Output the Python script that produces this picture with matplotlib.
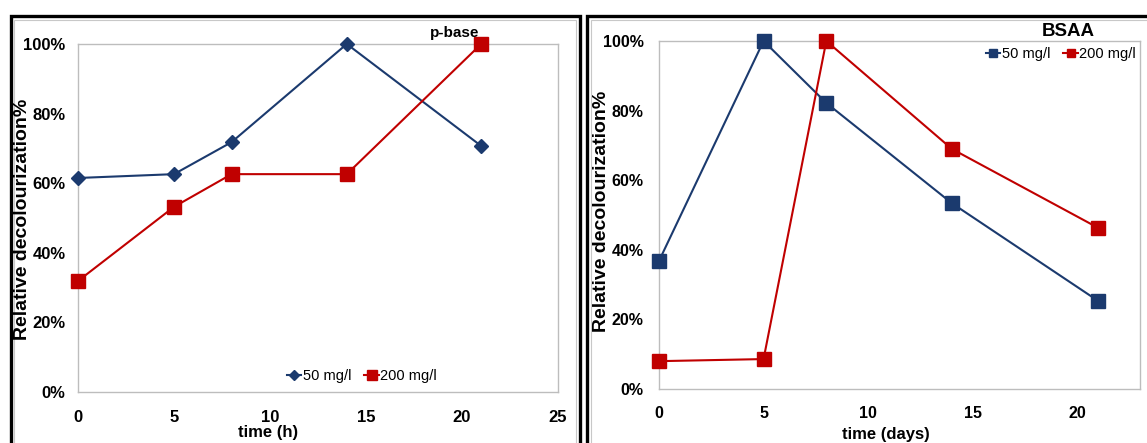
import matplotlib
matplotlib.use("Agg")
import matplotlib.pyplot as plt
from matplotlib.patches import Rectangle
from matplotlib.ticker import PercentFormatter

plt.rcParams['font.family'] = ['Liberation Sans', 'DejaVu Sans']

# p-base panel (time in hours)
pbase_time = [0, 5, 8, 14, 21]
pbase_50 = [61.5, 62.6, 71.8, 100, 70.7]
pbase_200 = [31.9, 53.2, 62.6, 62.6, 100]

# BSAA panel (time in days)
bsaa_time = [0, 5, 8, 14, 21]
bsaa_50 = [36.8, 100, 82.2, 53.4, 25.3]
bsaa_200 = [8.0, 8.6, 100, 69.0, 46.3]

series_labels = ['50 mg/l', '200 mg/l']
y_ticks = [0, 20, 40, 60, 80, 100]

BLUE = '#1B3A6E'
RED = '#C00000'
FRAME_GREY = '#BDBDBD'

W, H = 1147, 443
fig = plt.figure(figsize=(W / 100, H / 100), dpi=100)


def box(x0, y0, x1, y1):
    """Axes rectangle from pixel edges (top-left origin)."""
    return [x0 / W, (H - y1) / H, (x1 - x0) / W, (y1 - y0) / H]


def frame(x0, y0, x1, color, lw):
    """Panel frame whose bottom runs past the figure edge."""
    fig.add_artist(Rectangle((x0 / W, -0.05), (x1 - x0) / W, (H - y0) / H + 0.05,
                             transform=fig.transFigure, fill=False,
                             edgecolor=color, linewidth=lw))


def style_axes(ax, xlim, xticks, tick_size, xpad, ypad):
    ax.set_xlim(*xlim)
    ax.set_ylim(0, 100)
    ax.set_xticks(xticks)
    ax.set_yticks(y_ticks)
    ax.yaxis.set_major_formatter(PercentFormatter(decimals=0))
    ax.tick_params(length=0, labelsize=tick_size)
    ax.tick_params(axis='x', pad=xpad)
    ax.tick_params(axis='y', pad=ypad)
    for lbl in ax.get_xticklabels() + ax.get_yticklabels():
        lbl.set_fontweight('bold')
    for sp in ax.spines.values():
        sp.set_color(FRAME_GREY)
        sp.set_linewidth(1.0)


# outer frames: thick black border with a thin grey line just inside
frame(10.5, 15.5, 579.5, 'black', 2.4)
frame(14, 19.5, 576, '#C8C8C8', 0.8)
frame(586.5, 15.5, 1160, 'black', 2.4)
frame(590.5, 19.5, 1160, '#C8C8C8', 0.8)

# ---- left panel ----
ax1 = fig.add_axes(box(78, 44, 558, 392))
l1, = ax1.plot(pbase_time, pbase_50, color=BLUE, lw=1.5, marker='D',
               markersize=7.5, clip_on=False, zorder=3)
l2, = ax1.plot(pbase_time, pbase_200, color=RED, lw=1.5, marker='s',
               markersize=9.5, clip_on=False, zorder=3)
style_axes(ax1, (0, 25), [0, 5, 10, 15, 20, 25], 12, 13, 9)
fig.text(23 / W, (H - 219) / H, 'Relative decolourization%', rotation=90,
         ha='center', va='center', fontsize=14, fontweight='bold')
fig.text(268 / W, (H - 433) / H, 'time (h)', ha='center', va='center',
         fontsize=12, fontweight='bold')
fig.text(455 / W, (H - 33) / H, 'p-base', ha='center', va='center',
         fontsize=11, fontweight='bold')
fig.legend([l1, l2], series_labels, loc='center',
           bbox_to_anchor=(362 / W, (H - 376) / H), ncol=2, frameon=False,
           fontsize=10.5, handlelength=1.0, handletextpad=0.1,
           columnspacing=0.9, markerscale=0.7)

# ---- right panel ----
ax2 = fig.add_axes(box(659, 41, 1140, 389))
r1, = ax2.plot(bsaa_time, bsaa_50, color=BLUE, lw=1.5, marker='s',
               markersize=10, clip_on=False, zorder=3)
r2, = ax2.plot(bsaa_time, bsaa_200, color=RED, lw=1.5, marker='s',
               markersize=10, clip_on=False, zorder=3)
style_axes(ax2, (0, 23), [0, 5, 10, 15, 20], 11.5, 12, 11)
fig.text(601 / W, (H - 211) / H, 'Relative decolourization%', rotation=90,
         ha='center', va='center', fontsize=14, fontweight='bold')
fig.text(886 / W, (H - 434) / H, 'time (days)', ha='center', va='center',
         fontsize=12, fontweight='bold')
fig.text(1068 / W, (H - 31) / H, 'BSAA', ha='center', va='center',
         fontsize=13.5, fontweight='bold')
fig.legend([r1, r2], series_labels, loc='center',
           bbox_to_anchor=(1061 / W, (H - 54) / H), ncol=2, frameon=False,
           fontsize=10.5, handlelength=1.0, handletextpad=0.1,
           columnspacing=0.9, markerscale=0.6)

fig.savefig('out.png', dpi=100)
